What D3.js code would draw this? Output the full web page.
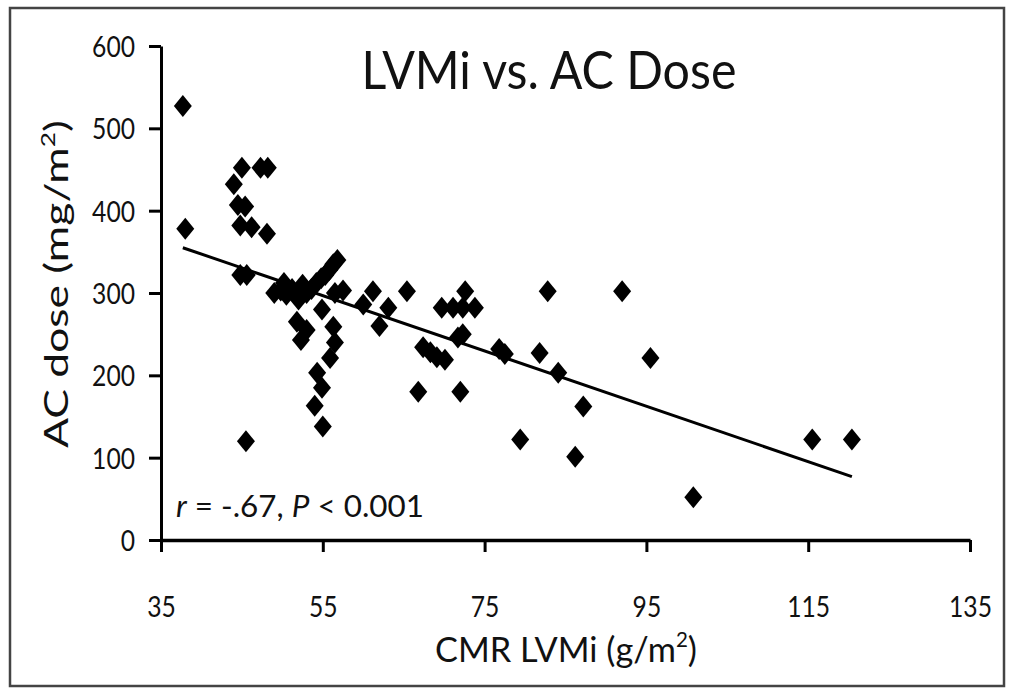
<!DOCTYPE html>
<html>
<head>
<meta charset="utf-8">
<script src="https://cdn.jsdelivr.net/npm/d3@7"></script>
<style>
 body { margin: 0; background: #fff; }
 text { font-family: Lato, "Open Sans", sans-serif; fill: #111; }
</style>
</head>
<body>
<script>
 // *** values
 var lvmi = [37.7, 38, 45, 47.3, 48.2, 44, 44.5, 45.4, 44.8, 46.2, 48.1, 44.8, 45.6, 45.5,
  49, 49.8, 50.5, 51.2, 51.8, 52.5, 53, 53.6, 54.2, 54.8, 55.3, 55.8, 56.3, 56.8, 57.5, 56.5, 50.2, 52,
  51.8, 52.3, 53, 54.9, 56.3, 56.5, 55.9, 54.3, 54.9, 54, 55,
  61.2, 60, 63.1, 62, 65.4, 67.4, 68.3, 69.1, 70.1, 66.8, 69.7, 71.1, 72.3, 73.8, 72.6, 72.3, 71.7, 72, 76.8, 77.5,
  82.8, 92, 81.8, 84.1, 95.5, 87.2, 79.4, 86.2, 100.8, 115.5, 120.4];
 var dose = [527, 378, 452, 452, 452, 432, 407, 405, 382, 380, 372, 322, 322, 120,
  300, 303, 298, 305, 300, 310, 300, 305, 312, 318, 322, 328, 335, 340, 303, 300, 312, 292,
  265, 243, 255, 280, 259, 240, 221, 203, 185, 163, 138,
  302, 286, 282, 260, 302, 234, 228, 222, 219, 180, 282, 282, 282, 282, 302, 250, 246, 180, 232, 226,
  302, 302, 227, 203, 221, 162, 122, 101, 52, 122, 122];

 var xTicks = [35, 55, 75, 95, 115, 135];
 var yTicks = [0, 100, 200, 300, 400, 500, 600];

 var trendX = [37.7, 120.4];
 var trendY = [355, 77];

 var points = lvmi.map(function(v, i) { return { x: v, y: dose[i] }; });

 var width = 1010
 var height = 690

 var svg = d3.select('body')
  .append('svg')
  .attr('width', width)
  .attr('height', height);

 // frame
 svg.append('rect')
  .attr('x', 10)
  .attr('y', 8)
  .attr('width', 994)
  .attr('height', 678)
  .attr('fill', 'none')
  .attr('stroke', '#444')
  .attr('stroke-width', 2.5);

 var xScale = d3.scaleLinear().domain([35, 135]).range([161, 970]);
 var yScale = d3.scaleLinear().domain([0, 600]).range([540, 46]);

 var sx = 0.85;

 // x axis
 var gx = svg.append('g')
  .attr('transform', 'translate(0,540)')
  .call(d3.axisBottom(xScale).tickValues(xTicks).tickSize(12).tickSizeOuter(0).tickFormat(d3.format('d')));
 gx.select('.domain').attr('stroke', '#000').attr('stroke-width', 3.5);
 gx.selectAll('.tick line').attr('stroke', '#000').attr('stroke-width', 3);
 gx.selectAll('.tick text')
  .attr('font-size', 29)
  .attr('y', 67)
  .attr('dy', '0.36em')
  .attr('transform', 'scale(' + sx + ',1)');

 // y axis
 var gy = svg.append('g')
  .attr('transform', 'translate(161,0)')
  .call(d3.axisLeft(yScale).tickValues(yTicks).tickSize(12).tickSizeOuter(0).tickFormat(d3.format('d')));
 gy.select('.domain').attr('stroke', '#000').attr('stroke-width', 3);
 gy.selectAll('.tick line').attr('stroke', '#000').attr('stroke-width', 3);
 gy.selectAll('.tick text')
  .attr('font-size', 29)
  .attr('x', -26 / sx)
  .attr('dy', '0.36em')
  .attr('transform', 'scale(' + sx + ',1)');
 svg.selectAll('.tick text').attr('fill', '#111').style('font-family', 'Lato, sans-serif');

 // trend line
 var line = d3.line()
  .x(function(d) { return xScale(d[0]); })
  .y(function(d) { return yScale(d[1]); });
 svg.append('path')
  .datum(trendX.map(function(v, i) { return [v, trendY[i]]; }))
  .attr('d', line)
  .attr('fill', 'none')
  .attr('stroke', '#000')
  .attr('stroke-width', 3);

 // diamonds
 svg.selectAll('path.pt')
  .data(points)
  .enter()
  .append('path')
  .attr('class', 'pt')
  .attr('d', 'M0,-11L9,0L0,11L-9,0Z')
  .attr('transform', function(d) { return 'translate(' + xScale(d.x) + ',' + yScale(d.y) + ')'; })
  .attr('fill', '#000');

 // *** text squeezed to the width it has in the picture
 function fitLabel(x, y, rot, anchor, size, w, build) {
  var g = svg.append('g');
  var t = g.append('text').attr('font-size', size).attr('text-anchor', anchor);
  build(t);
  var bw = t.node().getBBox().width;
  g.attr('transform', 'translate(' + x + ',' + y + ') rotate(' + rot + ') scale(' + (w / bw) + ',1)');
 }

 fitLabel(549, 89, 0, 'middle', 52, 375, function(t) { t.text('LVMi vs. AC Dose'); });

 fitLabel(68, 284, -90, 'middle', 32, 328, function(t) {
  t.append('tspan').text('AC dose (mg/m');
  t.append('tspan').attr('font-size', 19).attr('dy', -13).text('2');
  t.append('tspan').attr('dy', 13).text(')');
 });

 fitLabel(566, 662, 0, 'middle', 35, 262, function(t) {
  t.append('tspan').text('CMR LVMi (g/m');
  t.append('tspan').attr('font-size', 21).attr('dy', -15).text('2');
  t.append('tspan').attr('dy', 15).text(')');
 });

 fitLabel(176, 517, 0, 'start', 30, 248, function(t) {
  t.append('tspan').attr('font-style', 'italic').text('r');
  t.append('tspan').text(' = -.67, ');
  t.append('tspan').attr('font-style', 'italic').text('P');
  t.append('tspan').text(' < 0.001');
 });
</script>
</body>
</html>
